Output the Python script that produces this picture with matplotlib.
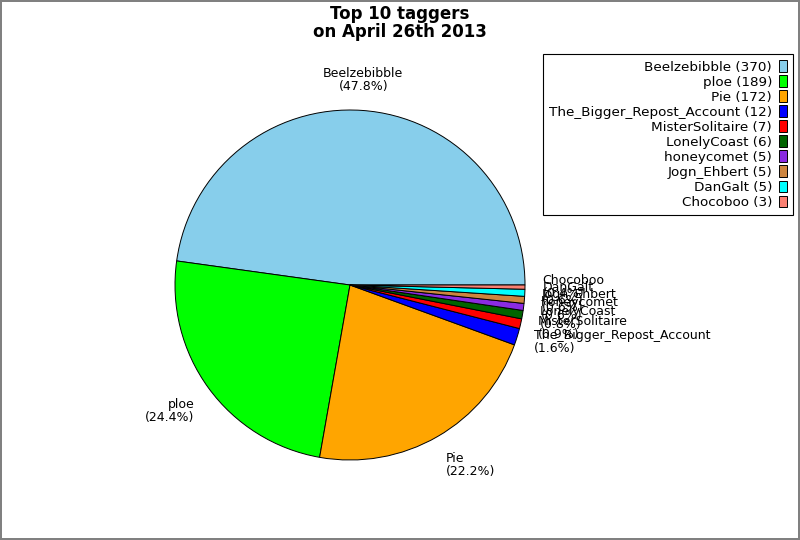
import numpy as np
import matplotlib
matplotlib.use("Agg")
import matplotlib.pyplot as plt

names = ["Beelzebibble", "ploe", "Pie", "The_Bigger_Repost_Account", "MisterSolitaire",
         "LonelyCoast", "honeycomet", "Jogn_Ehbert", "DanGalt", "Chocoboo"]
counts = [370, 189, 172, 12, 7, 6, 5, 5, 5, 3]
colors = ["skyblue", "lime", "orange", "blue", "red",
          "darkgreen", "blueviolet", "peru", "cyan", "salmon"]

total = sum(counts)
labels = [f"{n}\n({c / total * 100:.1f}%)" for n, c in zip(names, counts)]

fig = plt.figure(figsize=(8, 5.4), dpi=100)
fig.patch.set_edgecolor("#808080")
fig.patch.set_linewidth(1.5)

ax = fig.add_axes([131.25 / 800, 36.25 / 540, 437.5 / 800, 437.5 / 540])
wedges, texts = ax.pie(counts, labels=labels, colors=colors, startangle=0,
                       counterclock=True, labeldistance=1.1,
                       wedgeprops=dict(edgecolor="black", linewidth=0.7),
                       textprops=dict(fontsize=9, linespacing=1.0))
ax.set_xlim(-1.25, 1.25)
ax.set_ylim(-1.25, 1.25)
ax.set_aspect("equal")

# label alignment like the original
for w, t in zip(wedges, texts):
    ang = np.deg2rad((w.theta1 + w.theta2) / 2)
    c, s = np.cos(ang), np.sin(ang)
    if abs(c) < 0.3:
        t.set_ha("center")
    else:
        t.set_ha("left" if c > 0 else "right")
    if s > 0.5:
        t.set_va("bottom")
    elif s < -0.5:
        t.set_va("top")
    else:
        t.set_va("center")
    t.set_multialignment(t.get_ha())

fig.suptitle("Top 10 taggers\non April 26th 2013", x=0.5, y=0.99,
             fontsize=12, fontweight="bold", va="top", linespacing=1.0)

leg_labels = [f"{n} ({c})" for n, c in zip(names, counts)]
leg = fig.legend(wedges, leg_labels, loc="upper right",
                 bbox_to_anchor=(793 / 800, 1 - 54 / 540), borderaxespad=0,
                 markerfirst=False, fancybox=False, framealpha=1,
                 edgecolor="black", fontsize=9.7, labelspacing=0.12,
                 handlelength=0.6, handleheight=0.95, handletextpad=0.5,
                 borderpad=0.45)
leg.get_frame().set_linewidth(0.8)

fig.savefig("out.png", dpi=100, edgecolor=fig.get_edgecolor())
